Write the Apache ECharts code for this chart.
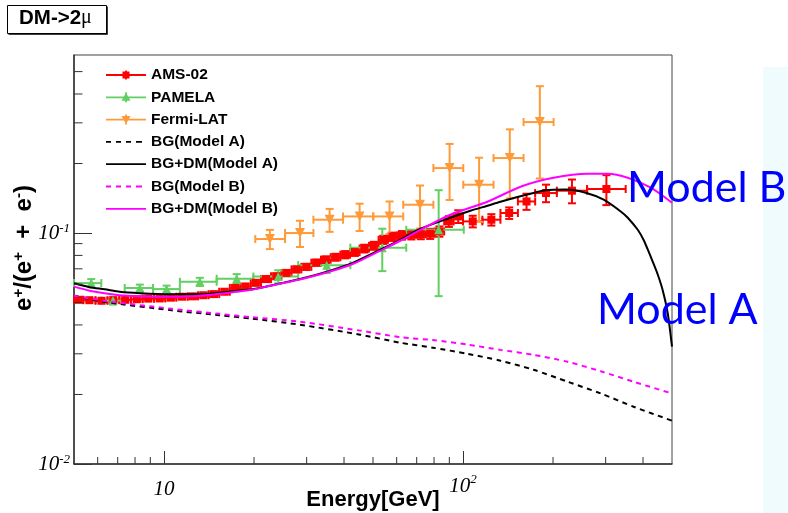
<!DOCTYPE html>
<html><head><meta charset="utf-8">
<script src="https://cdn.jsdelivr.net/npm/echarts@6/dist/echarts.min.js"></script>
<style>html,body{margin:0;padding:0;background:#fff}#c{width:788px;height:513px}</style>
</head><body><div id="c"></div><script>
// ---------------- data ----------------
const xMin = 5, xMax = 500, yMin = 0.01, yMax = 0.59;
const xMinorTicks = [6,7,8,9,20,30,40,50,60,70,80,90,200,300,400];
const yMinorTicks = [0.02,0.03,0.04,0.05,0.06,0.07,0.08,0.09,0.2,0.3,0.4,0.5];

// AMS-02
const amsE   = [5.18,5.63,6.18,6.77,7.42,8.11,8.86,9.67,10.54,11.49,12.49,13.54,14.69,15.94,17.29,18.73,20.28,21.93,23.73,25.68,27.73,29.93,32.28,34.78,37.47,40.37,43.47,46.77,50.32,54.11,58.16,62.51,67.2,72.25,77.65,83.4,89.7,96.4,107.8,124.4,142.7,163.1,189.5,231.4,301.7];
const amsLo  = [5.0,5.37,5.9,6.47,7.09,7.76,8.48,9.26,10.1,11.0,12.0,13.0,14.1,15.3,16.6,18.0,19.5,21.1,22.8,24.7,26.7,28.8,31.1,33.5,36.1,38.9,41.9,45.1,48.5,52.2,56.1,60.3,64.8,69.7,74.9,80.5,86.5,93.0,100,116.1,133.4,152.6,174.3,206,260];
const amsHi  = [5.37,5.9,6.47,7.09,7.76,8.48,9.26,10.1,11.0,12.0,13.0,14.1,15.3,16.6,18.0,19.5,21.1,22.8,24.7,26.7,28.8,31.1,33.5,36.1,38.9,41.9,45.1,48.5,52.2,56.1,60.3,64.8,69.7,74.9,80.5,86.5,93.0,100,116.1,133.4,152.6,174.3,206,260,350];
const amsVal = [0.0514,0.0512,0.0509,0.0512,0.0514,0.0517,0.0520,0.0521,0.0525,0.0530,0.0532,0.0538,0.0544,0.0557,0.0579,0.0587,0.0609,0.0632,0.0650,0.0672,0.0696,0.0714,0.0744,0.0767,0.0786,0.0806,0.0827,0.0857,0.0881,0.0935,0.0964,0.0978,0.0983,0.0988,0.0993,0.1016,0.1123,0.1180,0.1123,0.1142,0.1221,0.1370,0.1490,0.1525,0.1551];
const amsErr = [0.0008,0.0008,0.0008,0.0008,0.0008,0.0009,0.0009,0.0009,0.0010,0.0010,0.0011,0.0011,0.0012,0.0013,0.0014,0.0015,0.0016,0.0017,0.0018,0.0019,0.0020,0.0021,0.0023,0.0025,0.0027,0.0029,0.0031,0.0033,0.0035,0.0038,0.0040,0.0042,0.0045,0.0048,0.0050,0.0052,0.0060,0.0075,0.0065,0.0065,0.0070,0.0110,0.0130,0.0180,0.0230];

// PAMELA
const pamE   = [5.71,6.75,8.30,10.2,13.18,17.5,24.1,35.0,53.7,82.9];
const pamLo  = [5.0,6.17,7.39,9.19,11.3,15.0,19.9,28.1,42.0,64.6];
const pamHi  = [6.17,7.39,9.19,11.3,15.0,19.9,28.1,42.0,64.6,100.6];
const pamVal = [0.0607,0.0510,0.0578,0.0572,0.0615,0.0634,0.0648,0.0726,0.0864,0.1033];
const pamErr = [0.0025,0.0020,0.0020,0.0020,0.0025,0.0030,0.0042,0.0055,0.0180,0.0500];

// Fermi-LAT
const fermiE   = [22.6,28.5,35.8,45.1,56.8,71.8,90.2,113.2,143.4,180.7];
const fermiLo  = [20.2,25.4,31.6,39.7,50.1,63.1,79.6,100.2,126.5,159.4];
const fermiHi  = [25.4,31.6,39.7,50.1,63.1,79.6,100.2,126.5,159.4,200.9];
const fermiVal = [0.0942,0.1000,0.1142,0.1180,0.1180,0.1326,0.1911,0.1619,0.2112,0.3023];
const fermiErr = [0.009,0.013,0.013,0.016,0.019,0.028,0.052,0.050,0.070,0.130];

// Model curves
const bgE    = [5,6.3,10.6,15.3,19.7,28.5,45.3,61.7,79.3,103.4,133.5,172,224,289,372,500];
const bgAVal = [0.0535,0.0504,0.0463,0.0441,0.0426,0.0401,0.0363,0.0335,0.0319,0.0300,0.0280,0.0256,0.0227,0.0202,0.0177,0.0154];
const bgBVal = [0.0535,0.0509,0.0470,0.0447,0.0432,0.0413,0.0378,0.0354,0.0344,0.0329,0.0312,0.0297,0.0277,0.0252,0.0227,0.0202];

const sigAE   = [5.0,5.64,6.33,7.11,8.30,10.46,13.18,17.54,19.69,22.62,29.18,35.95,42.93,52.88,61.7,72.0,90.7,105.9,120.7,133.5,155.7,188.9,220.4,257.2,295.4,336.9,355.6,384.1,402.3,415.0,431.2,448.3,465.9,484.2,500];
const sigAVal = [0.0606,0.0583,0.0571,0.0557,0.0549,0.0543,0.0543,0.0563,0.0571,0.0591,0.0637,0.0687,0.0744,0.0847,0.0935,0.1044,0.1165,0.1249,0.1313,0.1366,0.1443,0.1532,0.1542,0.1494,0.1394,0.1240,0.1165,0.1033,0.0931,0.0847,0.0751,0.0660,0.0563,0.0447,0.0322];

const sigBE   = [5.0,5.64,6.33,7.11,8.30,10.46,13.18,17.54,19.69,22.62,29.18,35.95,42.93,52.88,61.7,72.0,90.7,120.7,155.7,200.9,261.2,304.7,355.6,424.6,500];
const sigBVal = [0.0586,0.0563,0.0549,0.0538,0.0533,0.0530,0.0535,0.0557,0.0568,0.0591,0.0634,0.0681,0.0736,0.0839,0.0926,0.1033,0.1200,0.1366,0.1587,0.1735,0.1806,0.1806,0.1735,0.1571,0.1353];

// ---------------- chart ----------------
const RED = '#ff0000', GREEN = '#62cf62', ORANGE = '#ff9a3a', MAG = '#ff00ff';
const chart = echarts.init(document.getElementById('c'), null, {renderer: 'canvas'});

function pairs(xs, ys) { return xs.map((x, i) => [x, ys[i]]); }
function rows(xs, ys, lo, hi, err) { return xs.map((x, i) => [x, ys[i], lo[i], hi[i], err[i]]); }

function errRender(params, api) {
  const x = api.value(0), y = api.value(1), lo = api.value(2), hi = api.value(3), e = api.value(4);
  const l = api.coord([lo, y]), h = api.coord([hi, y]);
  const t = api.coord([x, y + e]), b = api.coord([x, Math.max(y - e, 1e-6)]);
  const col = api.visual('color');
  const cap = 4;
  const st = {stroke: col, lineWidth: 2};
  const ln = (x1, y1, x2, y2) => ({type: 'line', shape: {x1, y1, x2, y2}, style: st});
  return {type: 'group', children: [
    ln(l[0], l[1], h[0], h[1]),
    ln(t[0], t[1], b[0], b[1]),
    ln(l[0], l[1] - cap, l[0], l[1] + cap),
    ln(h[0], h[1] - cap, h[0], h[1] + cap),
    ln(t[0] - cap, t[1], t[0] + cap, t[1]),
    ln(b[0] - cap, b[1], b[0] + cap, b[1])
  ]};
}

function errSeries(name, color, data) {
  return {type: 'custom', name, silent: true, z: 2, itemStyle: {color},
    renderItem: errRender, encode: {x: 0, y: 1}, data};
}
function markSeries(name, color, data, symbol, size, rot) {
  return {type: 'scatter', name, silent: true, z: 3, symbol, symbolSize: size, symbolRotate: rot || 0,
    itemStyle: {color, opacity: 1}, data};
}
function curve(name, color, data, dashed) {
  return {type: 'line', name, silent: true, z: 4, data, symbol: 'none', showSymbol: false, smooth: 0.25,
    itemStyle: {color}, lineStyle: {color, width: 2, type: dashed ? [5, 4.5] : 'solid'}};
}

const BOX = 'M20,0L20.01,0L20,0.01Z M20,14L20.01,14L20,13.99Z M0,7L0.01,7L0,7.01Z M40,7L39.99,7L40,7.01Z ';
const iconAMS = 'path://' + BOX + 'M0,6.1H40V7.9H0Z M19.1,2.5H20.9V11.5H19.1Z M16.5,3.5H23.5V10.5H16.5Z';
const iconPAM = 'path://' + BOX + 'M0,6.1H40V7.9H0Z M19.1,2H20.9V12H19.1Z M20,2.5L24.5,10.5L15.5,10.5Z';
const iconFER = 'path://' + BOX + 'M0,6.1H40V7.9H0Z M19.1,2H20.9V12H19.1Z M15.5,3.5L24.5,3.5L20,11.5Z';
const iconSolid = 'path://' + BOX + 'M0,6.1H40V7.9H0Z';
const iconDash = 'path://' + BOX + 'M0,6.1H5V7.9H0Z M10,6.1H15V7.9H10Z M20,6.1H25V7.9H20Z M30,6.1H36V7.9H30Z';

const serif = 'Liberation Serif';
const sans = 'Liberation Sans';

const option = {
  animation: false,
  backgroundColor: '#ffffff',
  grid: {left: 74, right: 116, top: 55, bottom: 49, show: true, borderColor: '#444', borderWidth: 1,
    backgroundColor: 'transparent', containLabel: false, outerBoundsMode: 'none'},
  legend: {
    orient: 'vertical', left: 106, top: 67, padding: 0, itemWidth: 40, itemHeight: 14, itemGap: 6.3,
    selectedMode: false,
    textStyle: {fontFamily: sans, fontWeight: 'bold', fontSize: 15.5, color: '#000', lineHeight: 14},
    data: [
      {name: 'AMS-02', icon: iconAMS},
      {name: 'PAMELA', icon: iconPAM},
      {name: 'Fermi-LAT', icon: iconFER},
      {name: 'BG(Model A)', icon: iconDash, itemStyle: {color: '#000'}},
      {name: 'BG+DM(Model A)', icon: iconSolid, itemStyle: {color: '#000'}},
      {name: 'BG(Model B)', icon: iconDash, itemStyle: {color: MAG}},
      {name: 'BG+DM(Model B)', icon: iconSolid, itemStyle: {color: MAG}}
    ]
  },
  xAxis: {
    type: 'log', logBase: 10, min: xMin, max: xMax,
    axisLine: {show: true, lineStyle: {color: '#333', width: 1.5}},
    axisTick: {show: true, inside: true, length: 13, lineStyle: {color: '#333', width: 1}},
    splitLine: {show: false}, minorTick: {show: false},
    axisLabel: {
      margin: 9, showMinLabel: false, showMaxLabel: false,
      formatter: v => Math.abs(v - 10) < 1e-9 ? '{a|10}' : (Math.abs(v - 100) < 1e-9 ? '{b|10}{s|2}' : ''),
      rich: {
        a: {fontFamily: serif, fontStyle: 'italic', fontSize: 21, color: '#000', lineHeight: 21, padding: [12, 0, 0, 0]},
        b: {fontFamily: serif, fontStyle: 'italic', fontSize: 21, color: '#000', lineHeight: 21, padding: [5, 0, 0, 0]},
        s: {fontFamily: serif, fontStyle: 'italic', fontSize: 13, color: '#000', lineHeight: 13, verticalAlign: 'top'}
      }
    },
    name: 'Energy[GeV]', nameLocation: 'middle', nameGap: 24, nameMoveOverlap: false,
    nameTextStyle: {fontFamily: sans, fontWeight: 'bold', fontSize: 22, color: '#000', verticalAlign: 'top', lineHeight: 24}
  },
  yAxis: {
    type: 'log', logBase: 10, min: yMin, max: yMax,
    axisLine: {show: true, lineStyle: {color: '#333', width: 1.5}},
    axisTick: {show: true, inside: true, length: 18, lineStyle: {color: '#333', width: 1}},
    splitLine: {show: false}, minorTick: {show: false},
    axisLabel: {
      margin: 4, showMinLabel: true, showMaxLabel: false,
      formatter: v => Math.abs(v - 0.1) < 1e-12 ? '{y|10}{ys|-1}' : (Math.abs(v - 0.01) < 1e-12 ? '{y|10}{ys|-2}' : ''),
      rich: {
        y: {fontFamily: serif, fontStyle: 'italic', fontSize: 21, color: '#000', lineHeight: 22},
        ys: {fontFamily: serif, fontStyle: 'italic', fontSize: 13, color: '#000', lineHeight: 13, verticalAlign: 'top'}
      }
    }
  },
  graphic: [
    {type: 'rect', z: -10, shape: {x: 763, y: 67, width: 25, height: 446}, style: {fill: '#effbfd'}},
    {type: 'rect', z: 10, shape: {x: 7.5, y: 5.5, width: 99, height: 28}, style: {fill: '#fff', stroke: '#000', lineWidth: 1}},
    {type: 'polyline', z: 10, shape: {points: [[8.5, 34], [107, 34], [107, 6.5]]}, style: {stroke: '#000', lineWidth: 1.5, fill: null}},
    {type: 'text', z: 11, x: 19, y: 18,
      style: {text: 'DM->2{mu|μ}', fontFamily: sans, fontWeight: 'bold', fontSize: 20.5, fill: '#000', verticalAlign: 'middle', align: 'left',
        rich: {mu: {fontFamily: serif, fontWeight: 'normal', fontSize: 20, fill: '#000'}}}},
    {type: 'text', z: 11, x: 24, y: 248, rotation: Math.PI / 2,
      style: {text: 'e{s|+}/(e{s|+}  +  e{s|-})', fontFamily: sans, fontWeight: 'bold', fontSize: 24, fill: '#000',
        align: 'center', verticalAlign: 'middle', lineHeight: 26,
        rich: {s: {fontFamily: sans, fontWeight: 'bold', fontSize: 15, fill: '#000', verticalAlign: 'top', lineHeight: 15}}}},
    {type: 'text', z: 100, x: 627, y: 188, style: {text: 'Model B', fontFamily: 'Lato', fontSize: 43, fill: '#0000ff', align: 'left', verticalAlign: 'middle'}},
    {type: 'text', z: 100, x: 597, y: 310, style: {text: 'Model A', fontFamily: 'Lato', fontSize: 43, fill: '#0000ff', align: 'left', verticalAlign: 'middle'}}
  ],
  series: [
    errSeries('AMS-02', RED, rows(amsE, amsVal, amsLo, amsHi, amsErr)),
    markSeries('AMS-02', RED, pairs(amsE, amsVal), 'rect', 8),
    errSeries('PAMELA', GREEN, rows(pamE, pamVal, pamLo, pamHi, pamErr)),
    markSeries('PAMELA', GREEN, pairs(pamE, pamVal), 'triangle', 9),
    errSeries('Fermi-LAT', ORANGE, rows(fermiE, fermiVal, fermiLo, fermiHi, fermiErr)),
    markSeries('Fermi-LAT', ORANGE, pairs(fermiE, fermiVal), 'triangle', 10, 180),
    curve('BG(Model A)', '#000000', pairs(bgE, bgAVal), true),
    curve('BG+DM(Model A)', '#000000', pairs(sigAE, sigAVal), false),
    curve('BG(Model B)', MAG, pairs(bgE, bgBVal), true),
    curve('BG+DM(Model B)', MAG, pairs(sigBE, sigBVal), false),
    {type: 'custom', silent: true, z: 5, encode: {x: 0, y: 1},
      data: xMinorTicks.map(v => [v, yMin]),
      renderItem: (p, api) => { const c = api.coord([api.value(0), api.value(1)]);
        return {type: 'line', shape: {x1: c[0], y1: c[1], x2: c[0], y2: c[1] - 7}, style: {stroke: '#333', lineWidth: 1}}; }},
    {type: 'custom', silent: true, z: 5, encode: {x: 0, y: 1},
      data: yMinorTicks.map(v => [xMin, v]),
      renderItem: (p, api) => { const c = api.coord([api.value(0), api.value(1)]);
        return {type: 'line', shape: {x1: c[0], y1: c[1], x2: c[0] + 8.5, y2: c[1]}, style: {stroke: '#333', lineWidth: 1}}; }}
  ]
};
chart.setOption(option);
</script></body></html>
